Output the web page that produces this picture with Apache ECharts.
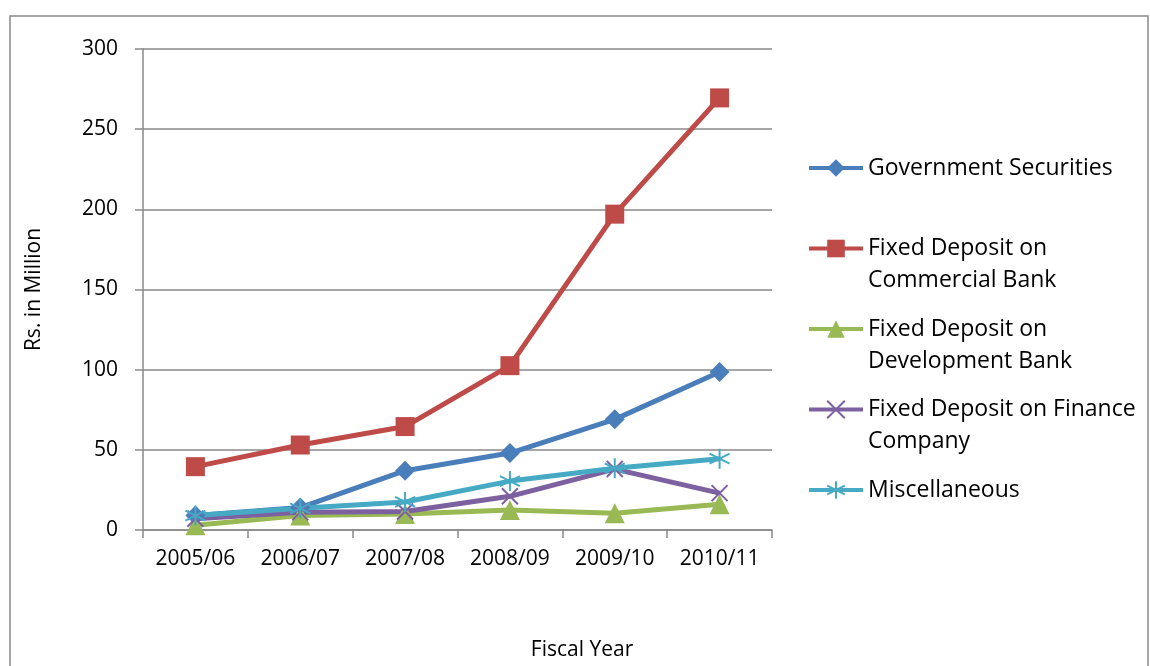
<!DOCTYPE html>
<html>
<head>
<meta charset="utf-8">
<script src="https://cdn.jsdelivr.net/npm/echarts@6/dist/echarts.min.js"></script>
<style>
  html, body { margin: 0; padding: 0; background: #fff; }
  #chart { width: 1150px; height: 666px; }
</style>
</head>
<body>
<div id="chart"></div>
<script>
// Investment portfolio by fiscal year (Rs. in Million)
const fiscalYears = ['2005/06', '2006/07', '2007/08', '2008/09', '2009/10', '2010/11'];

const governmentSecurities = [9, 14, 37, 48, 69, 98.5];
const fdCommercialBank     = [39.5, 53, 64.5, 102.5, 197, 269.5];
const fdDevelopmentBank    = [3, 9, 10, 12.5, 10.5, 16];
const fdFinanceCompany     = [7, 11, 11.5, 21, 38, 23];
const miscellaneous        = [9, 13.5, 17.5, 30.5, 38.5, 44.5];

const seriesNames = [
  'Government Securities',
  'Fixed Deposit on Commercial Bank',
  'Fixed Deposit on Development Bank',
  'Fixed Deposit on Finance Company',
  'Miscellaneous'
];
// Legend text wrapped onto lines as in the legend box
const legendLabels = {
  'Government Securities': 'Government Securities',
  'Fixed Deposit on Commercial Bank': 'Fixed Deposit on\nCommercial Bank',
  'Fixed Deposit on Development Bank': 'Fixed Deposit on\nDevelopment Bank',
  'Fixed Deposit on Finance Company': 'Fixed Deposit on Finance\nCompany',
  'Miscellaneous': 'Miscellaneous'
};

const FONT = '"Open Sans", "DejaVu Sans", sans-serif';
const AXIS_GRAY = '#898989';

const X_SYMBOL = 'path://M0,0 L20,20 M20,0 L0,20';
const STAR_SYMBOL = 'path://M10,0 L10,20 M1.3,5 L18.7,15 M1.3,15 L18.7,5';

function lineSeries(name, data, color, symbol, size, stroked) {
  return {
    name: name,
    type: 'line',
    data: data,
    symbol: symbol,
    symbolSize: size,
    showSymbol: true,
    lineStyle: { color: color, width: 5 },
    itemStyle: stroked
      ? { color: color, borderColor: color, borderWidth: 2 }
      : { color: color, borderWidth: 0 },
    emphasis: { disabled: true },
    animation: false
  };
}

const chart = echarts.init(document.getElementById('chart'), null, { renderer: 'canvas' });

chart.setOption({
  backgroundColor: '#ffffff',
  animation: false,
  textStyle: { fontFamily: FONT },
  grid: { left: 143, right: 378, top: 49, bottom: 136, containLabel: false },
  legend: {
    orient: 'vertical',
    left: 807,
    top: 120,
    padding: 0,
    itemGap: -15.5,
    itemWidth: 54,
    itemHeight: 22,
    data: seriesNames,
    selectedMode: false,
    lineStyle: { width: 4 },
    formatter: function (name) {
      // leading blank line keeps the icon beside the first text line
      const t = legendLabels[name];
      return t.indexOf('\n') >= 0 ? '\n' + t : '\n' + t + '\n';
    },
    textStyle: { fontFamily: FONT, fontSize: 23, color: '#000', lineHeight: 32 }
  },
  xAxis: {
    type: 'category',
    data: fiscalYears,
    boundaryGap: true,
    axisLine: { lineStyle: { color: AXIS_GRAY, width: 1.5 } },
    axisTick: { show: true, length: 8, inside: false, lineStyle: { color: AXIS_GRAY, width: 1.5 } },
    axisLabel: { fontFamily: FONT, fontSize: 21, color: '#000', margin: 19 },
    splitLine: { show: false }
  },
  yAxis: {
    type: 'value',
    min: 0,
    max: 300,
    interval: 50,
    name: 'Rs. in Million',
    nameLocation: 'middle',
    nameGap: 98,
    nameRotate: 90,
    nameTextStyle: { fontFamily: FONT, fontSize: 21, color: '#000' },
    axisLine: { show: true, lineStyle: { color: AXIS_GRAY, width: 1.5 } },
    axisTick: { show: true, length: 8, inside: false, lineStyle: { color: AXIS_GRAY, width: 1.5 } },
    axisLabel: { fontFamily: FONT, fontSize: 21, color: '#000', margin: 25 },
    splitLine: { show: true, lineStyle: { color: AXIS_GRAY, width: 1.5 } }
  },
  graphic: [
    {
      type: 'rect',
      shape: { x: 10, y: 16, width: 1138, height: 700 },
      style: { fill: 'none', stroke: AXIS_GRAY, lineWidth: 1.5 },
      silent: true,
      z: -1
    },
    {
      type: 'text',
      x: 582,
      y: 650,
      style: {
        text: 'Fiscal Year',
        font: '21px ' + FONT,
        fill: '#000',
        align: 'center',
        verticalAlign: 'middle'
      },
      silent: true
    }
  ],
  series: [
    lineSeries(seriesNames[0], governmentSecurities, '#4A7EBB', 'diamond', 20, false),
    lineSeries(seriesNames[1], fdCommercialBank, '#BE4B48', 'rect', 19, false),
    lineSeries(seriesNames[2], fdDevelopmentBank, '#98B954', 'triangle', 20, false),
    lineSeries(seriesNames[3], fdFinanceCompany, '#7D60A0', X_SYMBOL, 16, true),
    lineSeries(seriesNames[4], miscellaneous, '#46AAC5', STAR_SYMBOL, 20, true)
  ]
});
</script>
</body>
</html>
